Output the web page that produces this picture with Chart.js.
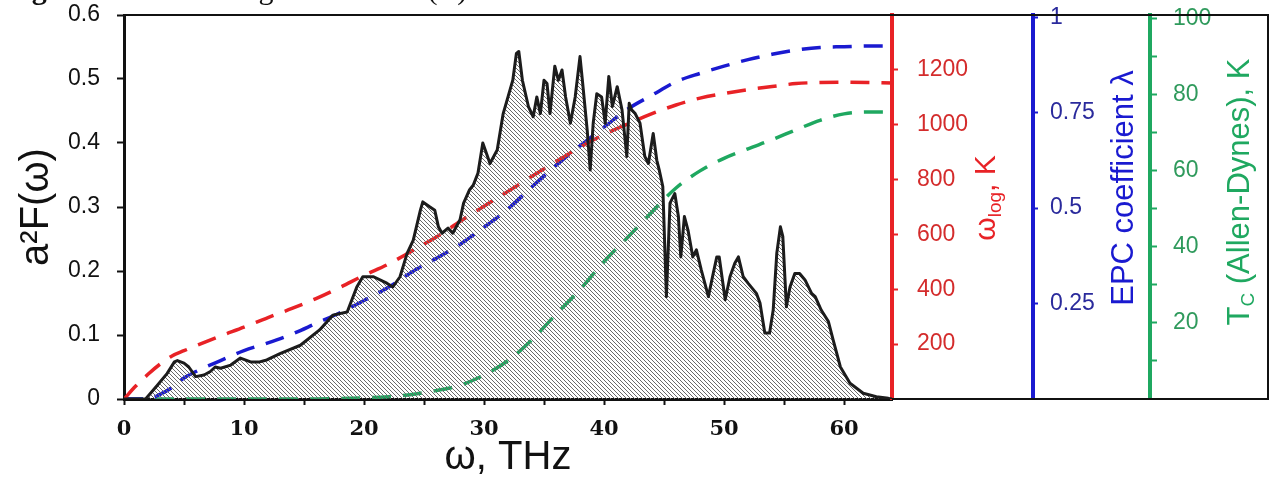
<!DOCTYPE html>
<html>
<head>
<meta charset="utf-8">
<script src="https://cdn.jsdelivr.net/npm/chart.js@4.4.1/dist/chart.umd.min.js"></script>
<style>
  html, body { margin: 0; padding: 0; background: #fff; }
  #wrap { position: relative; width: 1270px; height: 478px; }
</style>
</head>
<body>
<div id="wrap"><canvas id="spectrumChart"></canvas></div>
<script>
// Eliashberg spectral function a2F(w), frequency in THz
const specFreq = [0, 1.8, 2.8, 3.6, 4.2, 4.45, 5.0, 5.4, 5.97, 6.67, 7.2, 7.6, 8.05, 8.9, 9.7, 10.55,
    11.3, 11.9, 13.0, 14.7, 16.3, 17.4, 18.6, 19.4, 19.9, 20.8, 21.9, 22.4, 23.0, 23.6, 24.1, 24.7,
    24.9, 25.5, 25.9, 26.2, 26.5, 27.0, 27.4, 28.0, 28.3, 28.8, 29.1, 29.5, 29.9, 30.5, 31.1, 31.6,
    32.0, 32.4, 32.7, 32.9, 33.2, 33.7, 34.1, 34.4, 34.7, 35.0, 35.25, 35.5, 35.9, 36.2, 36.5, 36.8,
    37.2, 37.6, 38.0, 38.2, 38.6, 38.85, 39.1, 39.4, 39.8, 40.1, 40.4, 40.7, 41.1, 41.5, 41.9, 42.1,
    42.3, 42.6, 43.0, 43.4, 43.7, 44.1, 44.4, 44.6, 44.9, 45.2, 45.5, 45.9, 46.2, 46.4, 46.7, 47.0,
    47.4, 47.7, 48.1, 48.7, 49.1, 49.4, 49.6, 50.1, 50.5, 50.9, 51.2, 51.6, 52.0, 52.7, 53.0, 53.4,
    53.8, 54.1, 54.4, 54.7, 54.9, 55.2, 55.5, 55.9, 56.3, 56.75, 57.3, 57.6, 58.1, 58.7, 59.1, 59.7,
    60.5, 61.6, 62.7, 63.7, 64.0];
const specA2F = [0, 0, 0.022, 0.040, 0.058, 0.060, 0.056, 0.050, 0.035, 0.0375, 0.043, 0.050, 0.048, 0.053, 0.064, 0.058,
    0.058, 0.061, 0.071, 0.084, 0.108, 0.131, 0.136, 0.175, 0.191, 0.191, 0.181, 0.175, 0.191, 0.228, 0.248, 0.295,
    0.308, 0.300, 0.295, 0.269, 0.259, 0.267, 0.259, 0.280, 0.306, 0.327, 0.334, 0.353, 0.400, 0.368, 0.389, 0.446,
    0.472, 0.498, 0.540, 0.543, 0.498, 0.457, 0.441, 0.472, 0.446, 0.498, 0.493, 0.446, 0.520, 0.498, 0.514, 0.472,
    0.431, 0.472, 0.535, 0.498, 0.420, 0.358, 0.431, 0.477, 0.472, 0.431, 0.504, 0.457, 0.488, 0.452, 0.379, 0.462,
    0.452, 0.446, 0.431, 0.379, 0.368, 0.415, 0.373, 0.358, 0.332, 0.160, 0.306, 0.321, 0.285, 0.222, 0.285, 0.264,
    0.222, 0.233, 0.202, 0.160, 0.196, 0.222, 0.222, 0.155, 0.191, 0.212, 0.222, 0.191, 0.181, 0.165, 0.150, 0.103,
    0.103, 0.139, 0.228, 0.269, 0.254, 0.144, 0.175, 0.196, 0.196, 0.186, 0.165, 0.160, 0.139, 0.121, 0.092, 0.050,
    0.0245, 0.0089, 0.0036, 0.001, 0];

// running integrals evaluated up to frequency w
const curveFreq = [0, 1, 2, 3, 4, 5, 6, 8, 10, 12, 14, 16, 18, 20, 22, 24, 26, 28, 30, 32, 34, 36, 38,
    40, 42, 44, 46, 48, 50, 52, 54, 56, 58, 60, 62, 64];
const omegaLog = [0, 48, 90, 127, 157, 176, 194, 229, 262, 297, 330, 366, 407, 451, 491, 540, 590, 647,
    703, 757, 812, 866, 918, 964, 1003, 1040, 1072, 1097, 1114, 1128, 1139, 1150, 1154, 1155, 1154, 1152];
const lambdaEpc = [0, 0, 0, 0.012, 0.03, 0.055, 0.072, 0.1, 0.127, 0.147, 0.17, 0.198, 0.226, 0.258, 0.292,
    0.333, 0.368, 0.405, 0.45, 0.498, 0.556, 0.612, 0.663, 0.712, 0.760, 0.796, 0.831, 0.853, 0.872, 0.889,
    0.903, 0.914, 0.921, 0.923, 0.925, 0.925];
const tcAllenDynes = [0, 0, 0, 0, 0, 0, 0, 0, 0, 0, 0, 0, 0.1, 0.3, 0.6, 1.2, 2.2, 3.6, 6.3, 10.1, 15.6,
    22.3, 28.8, 36.1, 42.6, 49.2, 55.5, 60.0, 63.3, 65.8, 68.2, 70.8, 73.3, 75.0, 75.5, 75.5];

// tick values
const freqTicks = [0, 5, 10, 15, 20, 25, 30, 35, 40, 45, 50, 55, 60];
const a2fTicks = [0, 0.1, 0.2, 0.3, 0.4, 0.5, 0.6];
const wlogTicks = [200, 400, 600, 800, 1000, 1200];
const lambdaTicks = [0.25, 0.5, 0.75, 1];
const tcTicks = [10, 20, 30, 40, 50, 60, 70, 80, 90, 100];
const tcLabels = [20, 40, 60, 80, 100];

const RED = '#e82226', BLUE = '#1a1ad0', GREEN = '#1fa860';
const SANS = '"Liberation Sans", Arial, sans-serif';

function zip(xs, ys) {
    return xs.map((x, i) => ({ x: x, y: ys[i] }));
}

const canvas = document.getElementById('spectrumChart');
const ctx = canvas.getContext('2d');

// diagonal hatch for the area under a2F
function makeHatch() {
    const s = 4;
    const tile = document.createElement('canvas');
    tile.width = s; tile.height = s;
    const g = tile.getContext('2d');
    g.strokeStyle = '#6a6a6a';
    g.lineWidth = 1;
    for (let k = -1; k <= 1; k++) {
        g.beginPath();
        g.moveTo(-1, -1 + k * s);
        g.lineTo(s + 1, s + 1 + k * s);
        g.stroke();
    }
    return ctx.createPattern(tile, 'repeat');
}

function setTicks(values) {
    return scale => { scale.ticks = values.map(v => ({ value: v })); };
}

// fixed box sizes; label overhang must not push the plot area around
function fitWidth(w) {
    return s => { s.width = w; s.paddingTop = 0; s.paddingBottom = 0; };
}

function drawRotated(c, cx, cy, parts, color) {
    c.save();
    c.translate(cx, cy);
    c.rotate(-Math.PI / 2);
    c.fillStyle = color;
    c.textBaseline = 'middle';
    c.textAlign = 'left';
    let total = 0;
    parts.forEach(p => {
        c.font = p.size + 'px ' + SANS;
        p.w = c.measureText(p.text).width;
        total += p.w;
    });
    let x = -total / 2;
    parts.forEach(p => {
        c.font = p.size + 'px ' + SANS;
        c.fillText(p.text, x, p.dy || 0);
        x += p.w;
    });
    c.restore();
}

// box frame, right axis titles and the caption line above the plot
const decorations = {
    id: 'decorations',
    afterDraw(chart) {
        const c = chart.ctx;
        const area = chart.chartArea;
        const right = chart.width - 2;
        c.save();
        c.strokeStyle = '#111';
        c.lineWidth = 2;
        c.beginPath();
        c.moveTo(area.left, area.top);
        c.lineTo(right, area.top);
        c.lineTo(right, area.bottom);
        c.lineTo(area.right, area.bottom);
        c.stroke();

        c.font = 'bold 30px "Liberation Serif", serif';
        c.fillStyle = '#111';
        c.textBaseline = 'alphabetic';
        c.fillText('Fig. 3.', 5, -1);
        const w = c.measureText('Fig. 3. ').width;
        c.font = '30px "Liberation Serif", serif';
        c.fillText('The Eliashberg function a\u00b2F(\u03c9)', 5 + w, -1);
        c.restore();

        drawRotated(c, 987, 198, [
            { text: '\u03c9', size: 30 },
            { text: 'log', size: 19, dy: 9 },
            { text: ', K', size: 30 }
        ], RED);
        drawRotated(c, 1124, 188, [{ text: 'EPC coefficient \u03bb', size: 31 }], BLUE);
        drawRotated(c, 1240, 192, [
            { text: 'T', size: 31 },
            { text: 'C', size: 19, dy: 9 },
            { text: ' (Allen-Dynes), K', size: 31 }
        ], GREEN);
    }
};

const dashed = (label, data, color, axis) => ({
    label: label,
    data: data,
    yAxisID: axis,
    borderColor: color,
    borderWidth: 3.5,
    borderDash: [19, 12],
    pointRadius: 0,
    fill: false,
    cubicInterpolationMode: 'monotone',
    order: 1
});

new Chart(ctx, {
    type: 'line',
    data: {
        datasets: [
            {
                label: 'a2F',
                data: zip(specFreq, specA2F),
                yAxisID: 'y',
                borderColor: '#1c1c1c',
                borderWidth: 3,
                borderJoinStyle: 'round',
                backgroundColor: makeHatch(),
                fill: 'origin',
                pointRadius: 0,
                tension: 0,
                order: 0
            },
            dashed('wlog', zip(curveFreq, omegaLog), RED, 'yLog'),
            dashed('lambda', zip(curveFreq, lambdaEpc), BLUE, 'yLambda'),
            dashed('Tc', zip(curveFreq, tcAllenDynes), GREEN, 'yTc')
        ]
    },
    options: {
        responsive: true,
        maintainAspectRatio: false,
        animation: false,
        layout: { padding: { top: 15, right: 2, left: 0, bottom: 0 } },
        plugins: {
            legend: { display: false },
            tooltip: { enabled: false }
        },
        scales: {
            x: {
                type: 'linear',
                position: 'bottom',
                min: 0,
                max: 64,
                afterBuildTicks: setTicks(freqTicks),
                afterFit: s => { s.height = 79; s.paddingLeft = 0; s.paddingRight = 0; },
                border: { display: true, color: '#111', width: 3 },
                grid: { drawOnChartArea: false, tickLength: 6, tickWidth: 2, tickColor: '#111' },
                ticks: {
                    autoSkip: false,
                    maxRotation: 0,
                    padding: 12,
                    color: '#111',
                    font: { family: '"DejaVu Serif", serif', weight: 'bold', size: 21 },
                    callback: v => (v % 10 === 0 ? String(v) : '')
                },
                title: {
                    display: true,
                    text: '\u03c9, THz',
                    color: '#111',
                    padding: 0,
                    font: { family: SANS, size: 40, lineHeight: 1 }
                }
            },
            y: {
                position: 'left',
                min: 0,
                max: 0.6,
                afterBuildTicks: setTicks(a2fTicks),
                afterFit: fitWidth(124),
                border: { display: true, color: '#111', width: 3 },
                grid: { drawOnChartArea: false, tickLength: 7, tickWidth: 2, tickColor: '#111' },
                ticks: {
                    padding: 17,
                    color: '#111',
                    font: { family: SANS, size: 23 },
                    callback: v => String(+v.toFixed(1))
                },
                title: {
                    display: true,
                    text: 'a\u00b2F(\u03c9)',
                    color: '#111',
                    padding: { top: 17, bottom: 0 },
                    font: { family: SANS, size: 40, lineHeight: 1 }
                }
            },
            yLog: {
                position: 'right',
                weight: 1,
                min: 0,
                max: 1400,
                afterBuildTicks: setTicks(wlogTicks),
                afterFit: fitWidth(141),
                border: { display: true, color: RED, width: 4 },
                grid: { drawOnChartArea: false, tickLength: 6, tickWidth: 2, tickColor: RED },
                ticks: { padding: 19, color: '#d42c2c', font: { family: SANS, size: 23 }, callback: v => String(v) }
            },
            yLambda: {
                position: 'right',
                weight: 2,
                min: 0,
                max: 1.006,
                afterBuildTicks: setTicks(lambdaTicks),
                afterFit: fitWidth(117),
                border: { display: true, color: BLUE, width: 4 },
                grid: { drawOnChartArea: false, tickLength: 5, tickWidth: 2, tickColor: BLUE },
                ticks: { padding: 12, color: '#2a2a9c', font: { family: SANS, size: 23 }, callback: v => String(v) }
            },
            yTc: {
                position: 'right',
                weight: 3,
                min: 0,
                max: 101,
                afterBuildTicks: setTicks(tcTicks),
                afterFit: fitWidth(118),
                border: { display: true, color: GREEN, width: 4 },
                grid: { drawOnChartArea: false, tickLength: 7, tickWidth: 2, tickColor: GREEN },
                ticks: {
                    padding: 16,
                    color: '#2f9a5c',
                    font: { family: SANS, size: 23 },
                    callback: v => (tcLabels.includes(v) ? String(v) : '')
                }
            }
        }
    },
    plugins: [decorations]
});
</script>
</body>
</html>
